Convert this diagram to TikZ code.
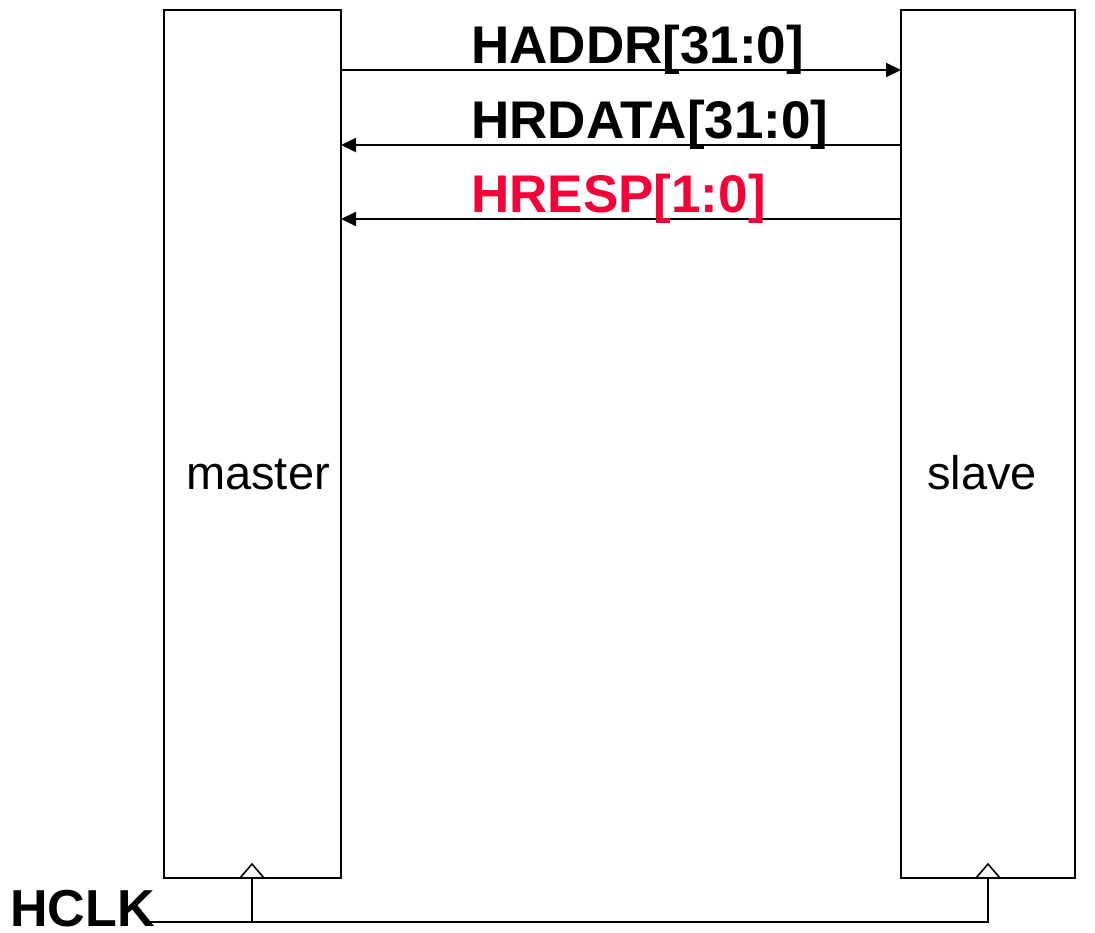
\documentclass[tikz,border=0pt]{standalone}
\usepackage{fontspec}
\setmainfont{Liberation Sans}
\usetikzlibrary{arrows.meta}
\definecolor{resp}{RGB}{245,0,55}
\begin{document}
\begin{tikzpicture}[x=1pt,y=-1pt,
  box/.style={draw=black,line width=2pt,minimum width=177pt,minimum height=868pt,inner sep=0pt},
  blk/.style={draw=black,line width=2pt,minimum width=174pt,minimum height=868pt,inner sep=0pt},
  sig/.style={font=\fontsize{53}{60}\selectfont\bfseries,anchor=base west,inner sep=0pt},
  lbl/.style={font=\fontsize{47}{54}\selectfont,anchor=base,inner sep=0pt},
  wire/.style={line width=2pt},
  arr/.style={line width=2pt,-{Triangle[length=15pt,width=14pt]}},
  clk/.style={line width=1.6pt}]
\useasboundingbox (0,0) rectangle (1095,933);
\node[box] (master) at (252.5,444) {};
\node[blk] (slave) at (988,444) {};
\node[lbl] (mtext) at (258,489) {master};
\node[lbl] (stext) at (982,489) {slave};
% signals
\coordinate (m1) at (341,70); \coordinate (s1) at (901,70);
\coordinate (m2) at (341,145); \coordinate (s2) at (901,145);
\coordinate (m3) at (341,219); \coordinate (s3) at (901,219);
\draw[arr] (m1) -- (s1);
\draw[arr] (s2) -- (m2);
\draw[arr] (s3) -- (m3);
\node[sig] (haddr) at (471,64) {HADDR[31:0]};
\node[sig] (hrdata) at (471,139) {HRDATA[31:0]};
\node[sig,text=resp] (hresp) at (471,213) {HRESP[1:0]};
% clock
\node[sig,font=\fontsize{52}{58}\selectfont\bfseries] (hclk) at (10,926) {HCLK};
\coordinate (mc) at (252,878); \coordinate (sc) at (988,878);
\coordinate (cs) at (150,922);
\draw[clk] (240,878) -- (252,864) -- (264,878);
\draw[clk] (976,878) -- (988,864) -- (1000,878);
\draw[wire] (cs) -- (sc |- cs) -- (sc);
\draw[wire] (mc) -- (mc |- cs);
\end{tikzpicture}
\end{document}
